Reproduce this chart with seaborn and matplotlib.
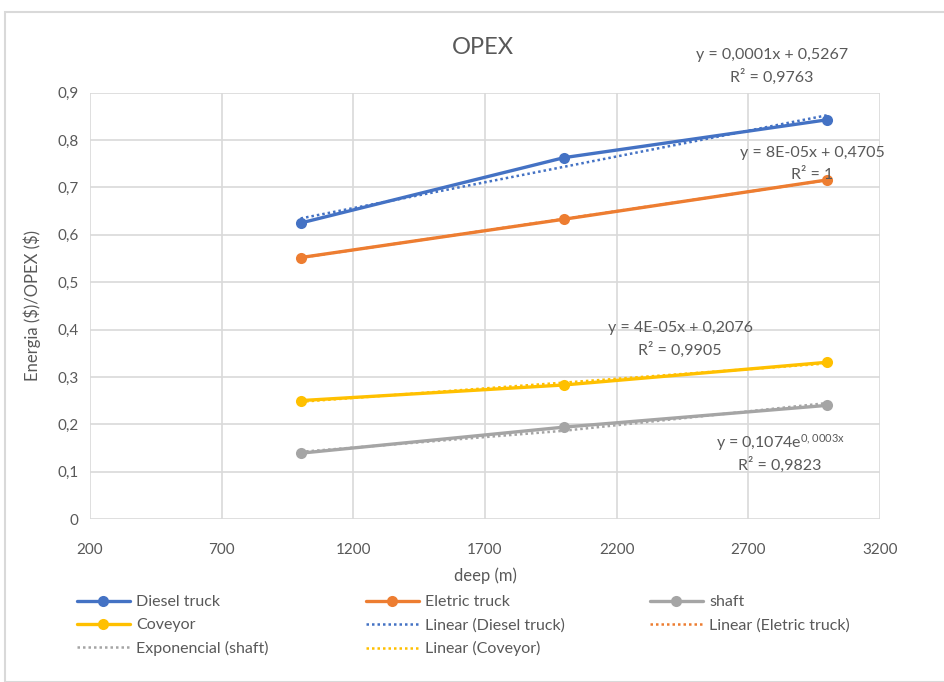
import numpy as np
import pandas as pd
import matplotlib
matplotlib.use('Agg')
import matplotlib.pyplot as plt
from matplotlib.lines import Line2D
from matplotlib.patches import Rectangle
from matplotlib.ticker import FuncFormatter
import seaborn as sns

# data
depth = [1000, 2000, 3000]
diesel_truck = [0.625, 0.763, 0.843]
eletric_truck = [0.552, 0.633, 0.716]
coveyor = [0.250, 0.283, 0.331]
shaft = [0.139, 0.194, 0.240]

series_names = ['Diesel truck', 'Eletric truck', 'shaft', 'Coveyor']
colors = {'Diesel truck': '#4472C4', 'Eletric truck': '#ED7D31',
          'shaft': '#A5A5A5', 'Coveyor': '#FFC000'}

eq_labels = {
    'Diesel truck': ('y = 0,0001x + 0,5267', 'R² = 0,9763'),
    'Eletric truck': ('y = 8E-05x + 0,4705', 'R² = 1'),
    'Coveyor': ('y = 4E-05x + 0,2076', 'R² = 0,9905'),
    'shaft': ('y = 0,1074e$\\mathregular{^{0,0003x}}$', 'R² = 0,9823'),
}

df = pd.DataFrame({
    'deep': depth * 4,
    'value': diesel_truck + eletric_truck + shaft + coveyor,
    'series': np.repeat(series_names, len(depth)),
})

sns.set_style('white')
plt.rcParams['font.family'] = ['Lato', 'DejaVu Sans']
text_color = '#595959'
grid_color = '#D9D9D9'

fig = plt.figure(figsize=(9.44, 6.82), dpi=100)
ax = fig.add_axes([0.0953, 0.239, 0.837, 0.625])

sns.lineplot(data=df, x='deep', y='value', hue='series', palette=colors,
             marker='o', markersize=8, markeredgewidth=0, linewidth=2.4,
             legend=False, ax=ax)

# trendlines computed from the series
fits = {}
x_arr = np.array(depth, dtype=float)
for name, vals in [('Diesel truck', diesel_truck), ('Eletric truck', eletric_truck),
                   ('Coveyor', coveyor)]:
    k, b = np.polyfit(x_arr, vals, 1)
    fits[name] = k * x_arr + b
k, b = np.polyfit(x_arr, np.log(shaft), 1)
fits['shaft'] = np.exp(b) * np.exp(k * x_arr)
for name, yfit in fits.items():
    ax.plot(x_arr, yfit, linestyle=(0, (1, 1.2)), color=colors[name], linewidth=1.8)

ax.set_xlim(200, 3200)
ax.set_ylim(0, 0.9)
ax.set_xticks(np.arange(200, 3201, 500))
ax.set_yticks(np.arange(0, 0.91, 0.1))
ax.yaxis.set_major_formatter(FuncFormatter(lambda v, p: ('%g' % round(v, 1)).replace('.', ',')))
ax.grid(True, color=grid_color, linewidth=1.2)
for s in ax.spines.values():
    s.set_visible(False)
ax.tick_params(axis='both', length=0, labelsize=11, colors=text_color)
ax.tick_params(axis='x', pad=17)
ax.tick_params(axis='y', pad=8)
ax.set_xlabel('deep (m)', fontsize=12, color=text_color, labelpad=8)
ax.set_ylabel('Energia (\\$)/OPEX (\\$)', fontsize=12, color=text_color, labelpad=12)

fig.text(0.512, 0.931, 'OPEX', ha='center', va='center', fontsize=17, color=text_color)

# trendline equation labels (figure pixel positions)
eq_pos = {'Diesel truck': (772, 55), 'Eletric truck': (812, 153),
          'Coveyor': (680, 328), 'shaft': (780, 443)}
for name, (px, py) in eq_pos.items():
    l1, l2 = eq_labels[name]
    fig.text(px / 944, 1 - py / 682, l1, ha='center', va='center', fontsize=11.5, color=text_color)
    fig.text(px / 944, 1 - (py + 22) / 682, l2, ha='center', va='center', fontsize=11.5, color=text_color)

def solid(name):
    return Line2D([], [], color=colors[name], marker='o', markersize=8,
                  markeredgewidth=0, linewidth=2.4)

def dotted(name):
    return Line2D([], [], color=colors[name], linestyle=(0, (1, 1.2)), linewidth=1.8)

legend_cols = [
    (77, [solid('Diesel truck'), solid('Coveyor'), dotted('shaft')],
     ['Diesel truck', 'Coveyor', 'Exponencial (shaft)']),
    (366, [solid('Eletric truck'), dotted('Diesel truck'), dotted('Coveyor')],
     ['Eletric truck', 'Linear (Diesel truck)', 'Linear (Coveyor)']),
    (650, [solid('shaft'), dotted('Eletric truck')],
     ['shaft', 'Linear (Eletric truck)']),
]
for px, hs, ls in legend_cols:
    fig.legend(hs, ls, loc='upper left', bbox_to_anchor=(px / 944, 1 - 595 / 682),
               frameon=False, fontsize=11.5, labelcolor=text_color, handlelength=3.3,
               handletextpad=0.4, labelspacing=0.55, borderpad=0, borderaxespad=0)

fig.patches.append(Rectangle((5 / 944, 0), 1.2, 1 - 12 / 682, transform=fig.transFigure,
                             fill=False, edgecolor=grid_color, linewidth=1.5))

fig.savefig('out.png', dpi=100)
